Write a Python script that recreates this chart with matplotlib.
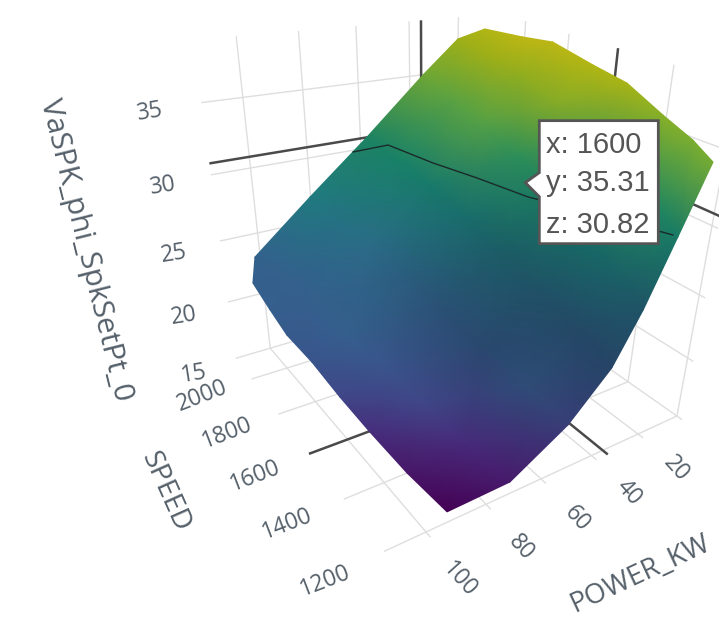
#!/usr/bin/env python3

"""
Docstring
------------------------------------------------------------------------------
    plot.py    |    spark set point surface over speed and power
------------------------------------------------------------------------------
"""

# %% load libraries
import numpy as np
import matplotlib
matplotlib.use('Agg')
import matplotlib.pyplot as plt
from matplotlib.patches import Polygon


# %% data

# axis ticks
speed_ticks = [1200, 1400, 1600, 1800, 2000]
power_ticks = [20, 40, 60, 80, 100]
z_ticks = [15, 20, 25, 30, 35]

# surface, one row per pass over the speed range
surface_power = [
    [91.0, 74.9, 60.3, 43.6, 26.4, 23.5, 45.5],
    [96.2, 80.6, 67.0, 41.3, 32.3, 27.1, 41.2],
    [101.6, 89.2, 66.6, 43.6, 34.7, 30.9, 40.2],
    [107.1, 94.2, 67.0, 47.5, 38.8, 43.8, 48.5],
    [110.0, 98.1, 68.8, 52.6, 45.6, 56.5, 50.8],
    [111.5, 100.0, 72.0, 57.1, 59.3, 56.0, 52.1],
    [111.6, 101.1, 77.1, 61.5, 57.5, 58.5, 55.4],
    [109.6, 103.0, 83.0, 64.3, 61.0, 54.2, 50.1]]
surface_speed = [
    [1229, 1167, 1120, 1140, 1199, 1149, 940],
    [1341, 1285, 1206, 1288, 1253, 1195, 1026],
    [1439, 1369, 1390, 1433, 1366, 1288, 1119],
    [1498, 1480, 1565, 1555, 1471, 1298, 1160],
    [1594, 1602, 1728, 1663, 1530, 1287, 1241],
    [1711, 1777, 1888, 1788, 1523, 1422, 1359],
    [1812, 1939, 1984, 1878, 1666, 1502, 1426],
    [1975, 2101, 2073, 2016, 1758, 1692, 1631]]
surface_z = [
    [15.0, 16.9, 20.7, 23.2, 25.4, 30.8, 37.9],
    [16.5, 18.3, 22.6, 23.7, 27.6, 32.5, 38.2],
    [18.5, 20.7, 22.9, 25.1, 29.5, 34.1, 38.8],
    [20.7, 22.1, 23.5, 27.0, 31.7, 36.8, 40.4],
    [22.1, 23.2, 24.3, 28.6, 33.6, 38.8, 40.9],
    [22.6, 23.2, 25.1, 30.0, 36.3, 39.6, 41.5],
    [23.2, 23.2, 26.2, 31.1, 36.6, 40.1, 41.5],
    [23.2, 23.5, 27.6, 31.9, 37.7, 40.1, 40.9]]
# lighting on the surface, 1 is fully lit
surface_light = [
    [1, 1, .88, .72, .72, .75, .8],
    [1, 1, .85, .72, .72, .76, .8],
    [1, 1, .78, .72, .72, .76, .8],
    [1, 1, .82, .72, .74, .76, .8],
    [1, 1, .88, .76, .76, .78, .8],
    [1, 1, .95, .78, .78, .78, .8],
    [1, 1, .92, .78, .78, .78, .8],
    [1, 1, .9, .76, .78, .78, .8]]

# hovered point and the contour at its height
hover_speed = 1600
hover_power = 35.31
hover_z = 30.82
contour_power = [68.7, 55.0, 51.0, 46.2, 41.8, 32.1, 23.9]
contour_speed = [2032, 2039, 1846, 1691, 1516, 1337, 1162]


# %% scene

# box limits
S_MIN, S_MAX = 1180, 2130
P_MIN, P_MAX = 2, 113
Z_MIN, Z_TOP = 15, 39
# colour range
C_MIN, C_SPAN = 15, 27.3

# camera, (power, speed, z, 1) to picture pixels
camera = np.array([
    [-4.3933766, -0.0722566, -4.5580594, 1048.6148237],
    [0.2394778, -0.0736847, -19.0026139, 916.7279239],
    [-0.0024576, 0.0003937, -0.0106997, 1.0]])


def project(power, speed, z):
    power, speed, z = np.broadcast_arrays(power, speed, z)
    q = np.tensordot(camera, [power, speed, z, np.ones(power.shape)], axes=1)
    return q[0] / q[2], q[1] / q[2]


def line3d(start, end, **style):
    xa, ya = project(*start)
    xb, yb = project(*end)
    ax.plot([xa, xb], [ya, yb], solid_capstyle='butt', **style)


# %% figure

# --+ create figure
fig = plt.figure(figsize=(7.19, 6.2), dpi=100)
ax = fig.add_axes([0, 0, 1, 1])
ax.axis('off')

# --+ grid on floor and back walls
grid = dict(color='#dedede', lw=1.0, zorder=1)
for s in speed_ticks:
    line3d((P_MAX, s, Z_MIN), (P_MIN, s, Z_MIN), **grid)
    line3d((P_MIN, s, Z_MIN), (P_MIN, s, Z_TOP), **grid)
for p in power_ticks:
    line3d((p, S_MIN, Z_MIN), (p, S_MAX, Z_MIN), **grid)
    line3d((p, S_MAX, Z_MIN), (p, S_MAX, Z_TOP), **grid)
for z in z_ticks:
    line3d((P_MAX, S_MAX, z), (P_MIN, S_MAX, z), **grid)
    line3d((P_MIN, S_MAX, z), (P_MIN, S_MIN, z), **grid)

# --+ hover spikes on floor and walls
spike = dict(color='#4a4a4a', lw=1.8, zorder=2)
line3d((P_MAX, hover_speed, Z_MIN), (P_MIN, hover_speed, Z_MIN), **spike)
line3d((hover_power, S_MIN, Z_MIN), (hover_power, S_MAX, Z_MIN), **spike)
line3d((P_MAX, S_MAX, hover_z), (P_MIN, S_MAX, hover_z), **spike)
line3d((hover_power, S_MAX, Z_MIN), (hover_power, S_MAX, Z_TOP), **spike)
line3d((P_MIN, S_MAX, hover_z), (P_MIN, S_MIN, hover_z), **spike)
line3d((P_MIN, hover_speed, Z_MIN), (P_MIN, hover_speed, Z_TOP), **spike)

# --+ surface
zz = np.array(surface_z)
X, Y = project(surface_power, surface_speed, zz)
rgb = plt.get_cmap('viridis')((zz - C_MIN) / C_SPAN)[..., :3]
rgb = rgb * np.array(surface_light)[..., None]
ax.pcolormesh(X, Y, rgb, shading='gouraud', zorder=3)

# --+ contour
cx, cy = project(contour_power, contour_speed, hover_z)
ax.plot(cx, cy, color='#1a2a2a', lw=1.0, zorder=4)

# --+ tick labels
font = dict(family='Open Sans', color='#55606a', ha='center', va='center',
            zorder=6)
for z in z_ticks:
    x, y = project(128, S_MAX, z)
    ax.text(x, y + 3, str(z), fontsize=16.5, rotation=9, **font)
for s in speed_ticks:
    x, y = project(130, s, Z_MIN)
    ax.text(x, y + 2, str(s), fontsize=16.5, rotation=21, **font)
for p in power_ticks:
    x, y = project(p, 1040, Z_MIN)
    ax.text(x - 5, y + 2, str(p), fontsize=16.5, rotation=-48, **font)

# --+ axis titles
ax.text(86, 250, 'VaSPK_phi_SpkSetPt_0', fontsize=21.5, rotation=-76,
        rotation_mode='anchor', **font)
ax.text(165, 492, 'SPEED', fontsize=20.5, rotation=-66,
        rotation_mode='anchor', **font)
ax.text(640, 574, 'POWER_KW', fontsize=20, rotation=25,
        rotation_mode='anchor', **font)

# --+ hover label
tx, ty = project(hover_power, hover_speed, hover_z)
outline = [(0, 0), (14, -10), (14, -62), (133, -62), (133, 61), (14, 61), (14, 14)]
ax.add_patch(Polygon([(tx + a, ty + b) for a, b in outline], closed=True,
                     fc='white', ec='#555555', lw=2, zorder=7))
hover_text = ['x: %d' % hover_speed, 'y: %.2f' % hover_power, 'z: %.2f' % hover_z]
for dy, label in zip((-38, 0, 42), hover_text):
    ax.text(tx + 21, ty + dy, label, family='Liberation Sans', fontsize=21,
            color='#555555', va='center', ha='left', zorder=8)

# --+ picture coordinates, save plot
ax.set_xlim(0, 719)
ax.set_ylim(620, 0)
fig.savefig('out.png', dpi=100)
